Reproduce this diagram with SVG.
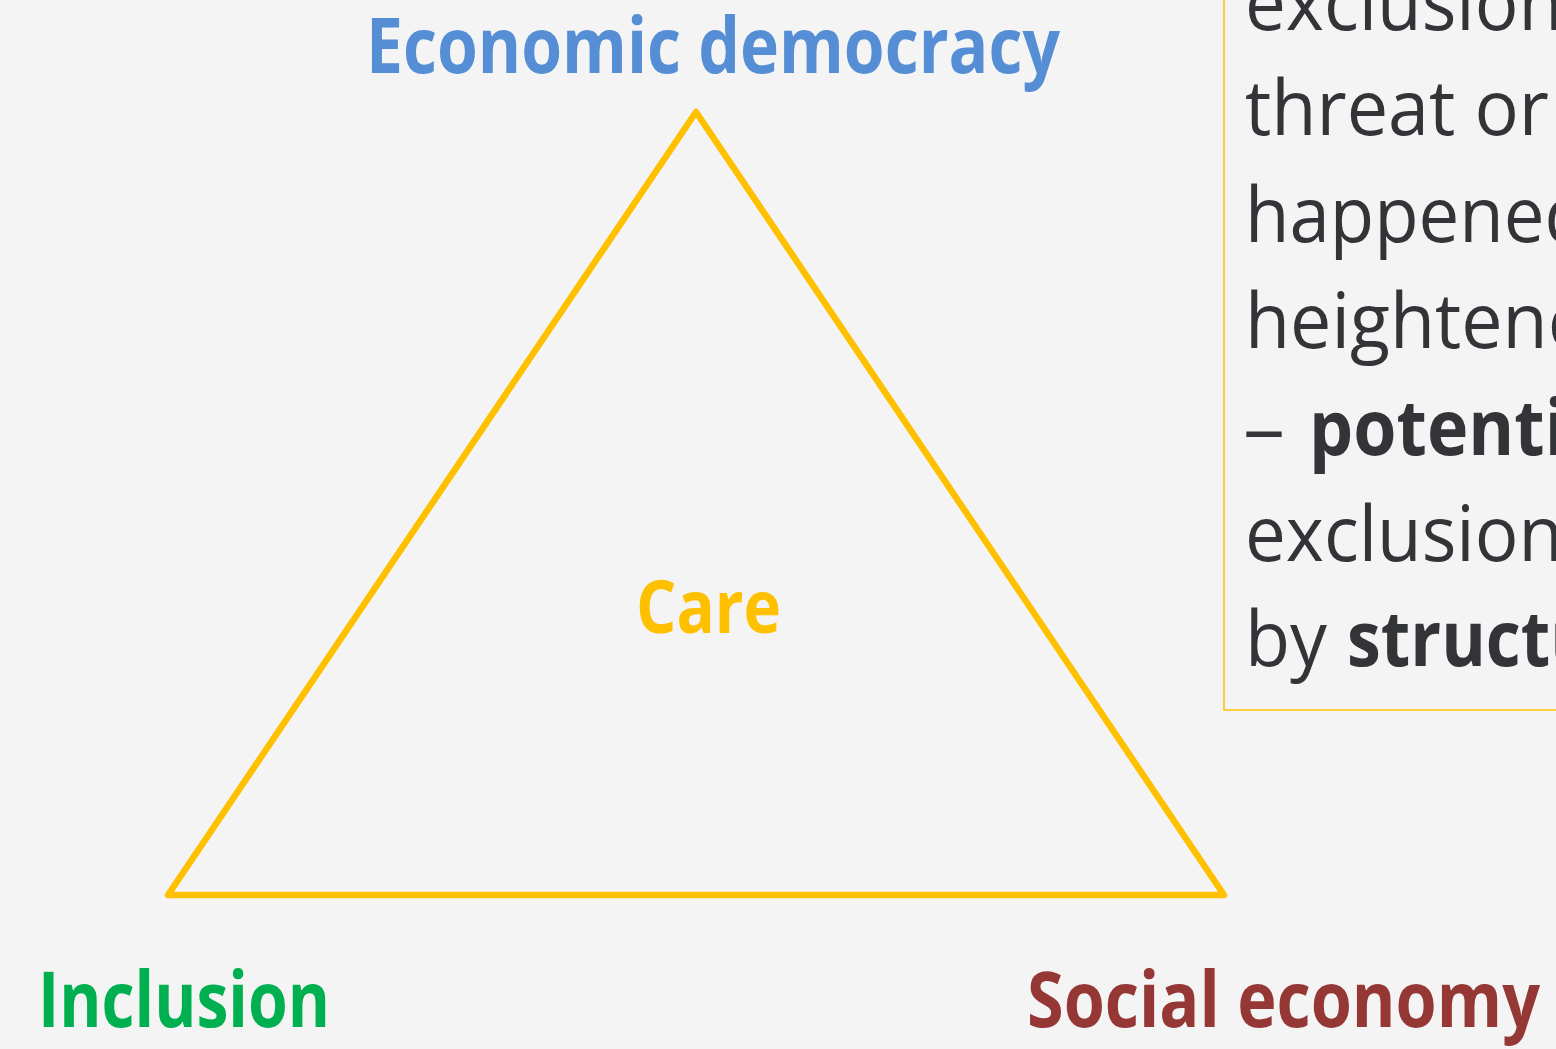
<svg xmlns="http://www.w3.org/2000/svg" width="1556" height="1049" viewBox="0 0 1556 1049">
<style>
.lbl{font-family:"Open Sans","Noto Sans",sans-serif;font-weight:700;}
.body{font-family:"Open Sans","Noto Sans",sans-serif;font-weight:400;font-size:77px;fill:#333438;}
.bold{font-weight:700;}
</style>
<rect x="0" y="0" width="1556" height="1049" fill="#f4f4f4"/>
<g id="connectors">
<polygon points="696,112 168,895 1224,895" fill="none" stroke="#FFC000" stroke-width="6.5" stroke-linejoin="round"/>
</g>
<g id="node-economic-democracy">
<text class="lbl" x="366" y="73" font-size="77" fill="#558ED5" textLength="694" lengthAdjust="spacingAndGlyphs">Economic democracy</text>
</g>
<g id="node-care">
<text class="lbl" x="636" y="633" font-size="73" fill="#FFC000" textLength="145" lengthAdjust="spacingAndGlyphs">Care</text>
</g>
<g id="node-inclusion">
<text class="lbl" x="38" y="1027" font-size="77" fill="#00B050" textLength="292" lengthAdjust="spacingAndGlyphs">Inclusion</text>
</g>
<g id="node-social-economy">
<text class="lbl" x="1027" y="1027" font-size="77" fill="#953735" textLength="513" lengthAdjust="spacingAndGlyphs">Social economy</text>
</g>
<g id="node-textbox">
<rect x="1224" y="-5" width="400" height="715" fill="none" stroke="#FFC000" stroke-width="1.5"/>
<text class="body" x="1245" y="30" textLength="318" lengthAdjust="spacingAndGlyphs">exclusion</text>
<text class="body" x="1245" y="135" textLength="304" lengthAdjust="spacingAndGlyphs">threat or</text>
<text class="body" x="1245" y="242" textLength="344" lengthAdjust="spacingAndGlyphs">happened</text>
<text class="body" x="1245" y="348" textLength="389" lengthAdjust="spacingAndGlyphs">heightened</text>
<text class="body" x="1243" y="455" textLength="42" lengthAdjust="spacingAndGlyphs">–</text>
<text class="body bold" x="1309" y="455" textLength="257" lengthAdjust="spacingAndGlyphs">potenti</text>
<text class="body" x="1245" y="561" textLength="318" lengthAdjust="spacingAndGlyphs">exclusion</text>
<text class="body" x="1245" y="666" textLength="82" lengthAdjust="spacingAndGlyphs">by</text>
<text class="body bold" x="1347" y="666" textLength="248" lengthAdjust="spacingAndGlyphs">structu</text>
</g>
</svg>
